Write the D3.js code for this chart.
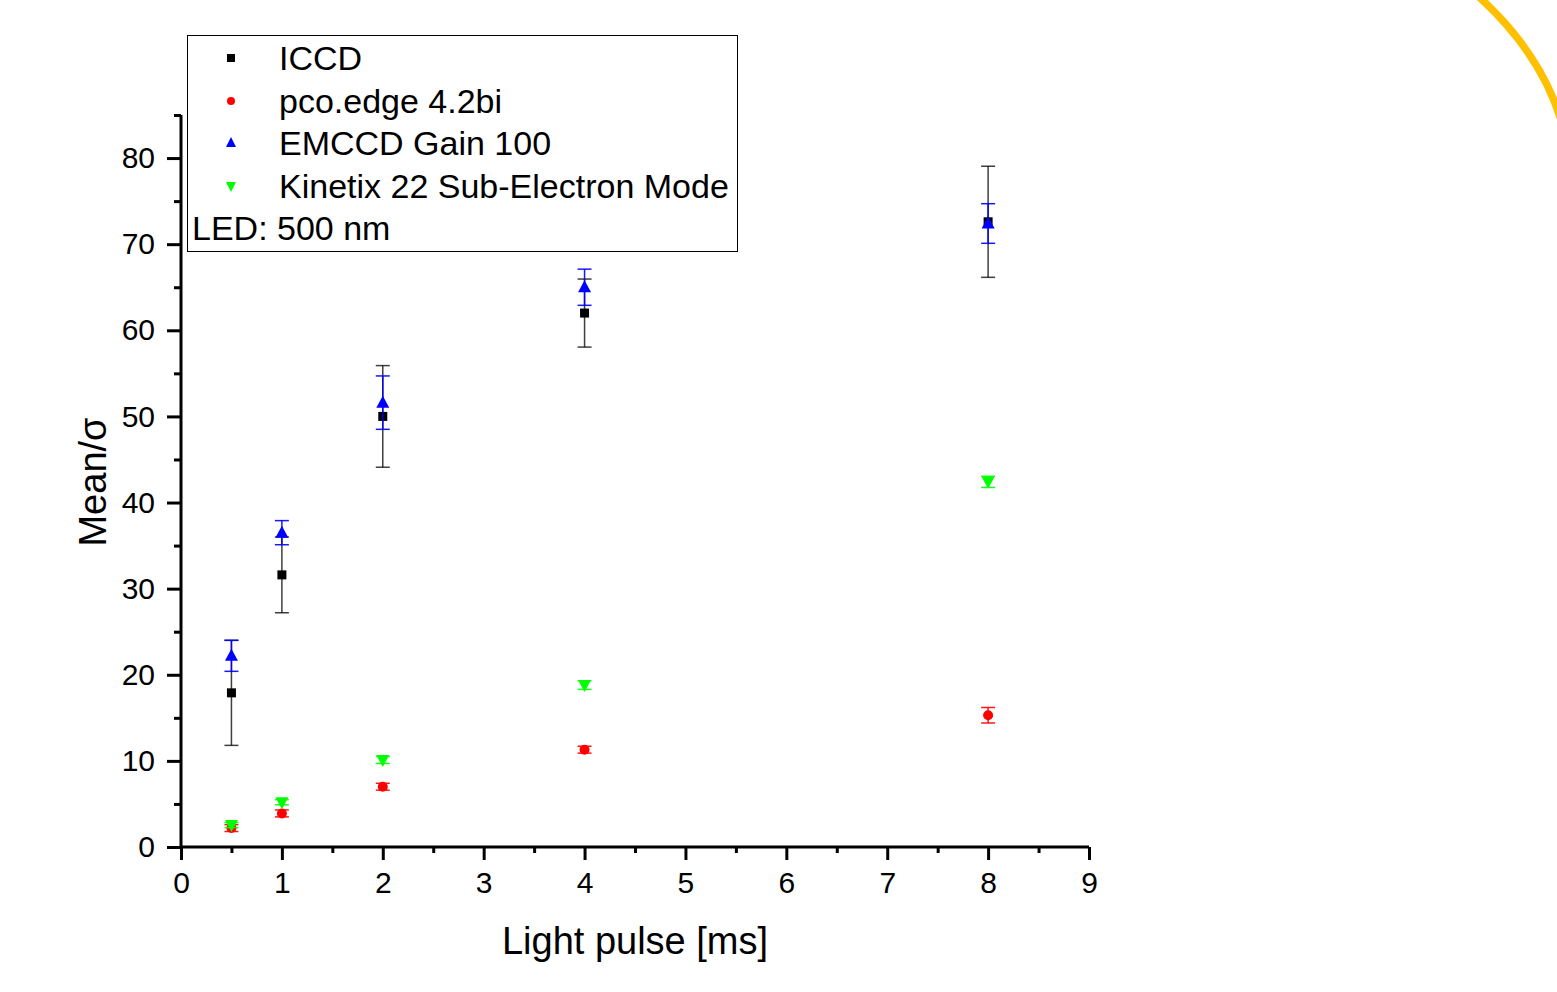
<!DOCTYPE html>
<html>
<head>
<meta charset="utf-8">
<script src="https://cdn.jsdelivr.net/npm/d3@7"></script>
<style>
  html, body { margin: 0; padding: 0; background: #fff; }
  svg { display: block; font-family: "Liberation Sans", Arial, sans-serif; }
</style>
</head>
<body>
<svg id="chart" width="1557" height="992"></svg>
<script>
const xValues = [0.5, 1, 2, 4, 8];
const iccd = [17.9, 31.6, 50.0, 62.0, 72.6];
const iccdErr = [6.1, 4.4, 5.9, 3.95, 6.45];
const pco = [2.2, 3.9, 7.0, 11.3, 15.3];
const pcoErr = [0.4, 0.4, 0.4, 0.4, 0.9];
const emccd = [22.2, 36.5, 51.6, 65.0, 72.4];
const emccdErr = [1.8, 1.4, 3.1, 2.1, 2.3];
const kinetix = [2.55, 5.2, 10.1, 18.8, 42.4];
const kinetixErr = [0.3, 0.3, 0.4, 0.5, 0.65];
const xTicks = [0, 1, 2, 3, 4, 5, 6, 7, 8, 9];
const yTicks = [0, 10, 20, 30, 40, 50, 60, 70, 80];
const seriesNames = ["ICCD", "pco.edge 4.2bi", "EMCCD Gain 100", "Kinetix 22 Sub-Electron Mode"];
const seriesColors = ["#000000", "#ff0000", "#0000ff", "#00ff00"];
const seriesSymbols = ["square", "circle", "triangle", "triangleDown"];
const legendNote = "LED: 500 nm";
const xTitle = "Light pulse [ms]";
const yTitle = "Mean/σ";

const svg = d3.select("#chart");
const x = d3.scaleLinear().domain([0, 9]).range([181, 1089]);
const y = d3.scaleLinear().domain([0, 85]).range([847, 115]);

// decorative orange arc (top right)
const p = d3.path();
p.moveTo(1478, -4);
p.quadraticCurveTo(1540, 52, 1561, 120);
svg.append("path").attr("d", p.toString()).attr("fill", "none")
  .attr("stroke", "#ffc000").attr("stroke-width", 7.5);

// axes
const xAxis = d3.axisBottom(x).tickValues(xTicks).tickSize(13).tickPadding(12).tickFormat(d3.format("d"));
const yAxis = d3.axisLeft(y).tickValues(yTicks).tickSize(14).tickPadding(12).tickFormat(d3.format("d"));

const gx = svg.append("g").attr("transform", `translate(0,${y(0)})`).call(xAxis);
const gy = svg.append("g").attr("transform", `translate(${x(0)},0)`).call(yAxis);

// minor ticks
svg.append("g").attr("transform", `translate(0,${y(0)})`)
  .call(d3.axisBottom(x).tickValues(d3.range(0.5, 9, 1)).tickSize(6).tickFormat(""))
  .call(g => g.select(".domain").remove());
svg.append("g").attr("transform", `translate(${x(0)},0)`)
  .call(d3.axisLeft(y).tickValues(d3.range(5, 90, 10)).tickSize(7).tickFormat(""))
  .call(g => g.select(".domain").remove());

[gx, gy].forEach(g => {
  g.select(".domain").attr("stroke", "#000").attr("stroke-width", 3);
  g.selectAll(".tick text").attr("fill", "#000").attr("font-size", 30).attr("font-family", "Liberation Sans, Arial, sans-serif");
});
svg.selectAll(".tick line").attr("stroke", "#000").attr("stroke-width", 3);
gx.select(".domain").attr("d", `M${x(0)},0H${x(9)}`);
gy.select(".domain").attr("d", `M0,${y(0)}V${y(85)}`);

// axis titles
svg.append("text").attr("x", 635).attr("y", 954).attr("text-anchor", "middle")
  .attr("font-size", 38).attr("fill", "#000").text(xTitle);
svg.append("text").attr("transform", "translate(106,482) rotate(-90)").attr("text-anchor", "middle")
  .attr("font-size", 38).attr("fill", "#000").text(yTitle);

// symbols
function drawSymbol(g, type, cx, cy, color) {
  if (type === "square") {
    g.append("rect").attr("x", cx - 4.5).attr("y", cy - 4.5).attr("width", 9).attr("height", 9).attr("fill", color);
  } else if (type === "circle") {
    g.append("circle").attr("cx", cx).attr("cy", cy).attr("r", 5).attr("fill", color);
  } else if (type === "triangle") {
    g.append("path").attr("d", `M${cx},${cy - 7}L${cx + 6.5},${cy + 5}L${cx - 6.5},${cy + 5}Z`).attr("fill", color);
  } else if (type === "triangleDown") {
    g.append("path").attr("d", `M${cx},${cy + 7}L${cx + 6.5},${cy - 5}L${cx - 6.5},${cy - 5}Z`).attr("fill", color);
  }
}

const allValues = [iccd, pco, emccd, kinetix];
const allErrs = [iccdErr, pcoErr, emccdErr, kinetixErr];

allValues.forEach((vals, si) => {
  const g = svg.append("g");
  const color = seriesColors[si];
  vals.forEach((v, i) => {
    const cx = x(xValues[i]);
    const top = y(v + allErrs[si][i]);
    const bot = y(v - allErrs[si][i]);
    g.append("line").attr("x1", cx).attr("x2", cx).attr("y1", top).attr("y2", bot)
      .attr("stroke", color).attr("stroke-width", 1.5).attr("opacity", si === 0 ? 0.75 : 0.9);
    [top, bot].forEach(yy => {
      g.append("line").attr("x1", cx - 7).attr("x2", cx + 7).attr("y1", yy).attr("y2", yy)
        .attr("stroke", color).attr("stroke-width", 1.5).attr("opacity", si === 0 ? 0.75 : 0.9);
    });
    drawSymbol(g, seriesSymbols[si], cx, y(v), color);
  });
});

// legend
const lg = svg.append("g");
lg.append("rect").attr("x", 187.5).attr("y", 35.5).attr("width", 550).attr("height", 216)
  .attr("fill", "#fff").attr("stroke", "#000").attr("stroke-width", 1);
const rowY = [58, 101, 143, 186];
seriesNames.forEach((name, i) => {
  const ss = seriesSymbols[i];
  const sg = lg.append("g");
  if (ss === "square") sg.append("rect").attr("x", 227).attr("y", rowY[i] - 4).attr("width", 8).attr("height", 8).attr("fill", seriesColors[i]);
  else if (ss === "circle") sg.append("circle").attr("cx", 231).attr("cy", rowY[i]).attr("r", 4).attr("fill", seriesColors[i]);
  else if (ss === "triangle") sg.append("path").attr("d", `M231,${rowY[i] - 6}L236,${rowY[i] + 4}L226,${rowY[i] + 4}Z`).attr("fill", seriesColors[i]);
  else sg.append("path").attr("d", `M231,${rowY[i] + 6}L236,${rowY[i] - 4}L226,${rowY[i] - 4}Z`).attr("fill", seriesColors[i]);
  lg.append("text").attr("x", 279).attr("y", rowY[i]).attr("dy", "0.35em")
    .attr("font-size", 34).attr("fill", "#000").text(name);
});
lg.append("text").attr("x", 192).attr("y", 228).attr("dy", "0.35em")
  .attr("font-size", 34).attr("fill", "#000").text(legendNote);
</script>
</body>
</html>
